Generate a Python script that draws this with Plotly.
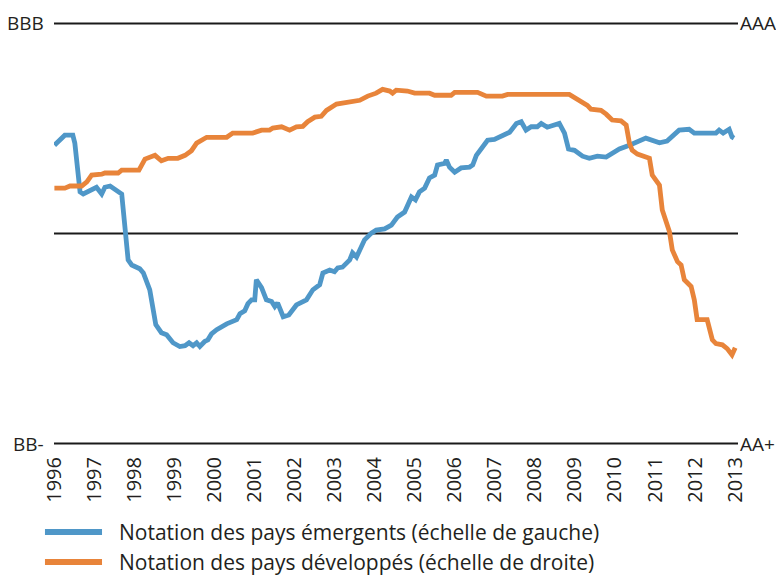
import plotly.graph_objects as go

# Emerging countries rating (left scale), index 0 = BB-, 100 = BBB
em_years = [1996.01, 1996.27, 1996.47, 1996.52, 1996.65, 1996.73, 1997.06, 1997.19, 1997.27, 1997.40,
            1997.69, 1997.85, 1997.94, 1998.14, 1998.23, 1998.39, 1998.54, 1998.68, 1998.81, 1998.97,
            1999.14, 1999.27, 1999.37, 1999.47, 1999.56, 1999.64, 1999.76, 1999.84, 1999.93, 2000.06,
            2000.31, 2000.46, 2000.56, 2000.64, 2000.76, 2000.84, 2000.93, 2001.01, 2001.05, 2001.18,
            2001.30, 2001.43, 2001.51, 2001.58, 2001.72, 2001.86, 2002.05, 2002.30, 2002.46, 2002.63,
            2002.71, 2002.88, 2003.00, 2003.08, 2003.20, 2003.38, 2003.45, 2003.55, 2003.75, 2003.92,
            2004.04, 2004.25, 2004.42, 2004.57, 2004.75, 2004.92, 2005.02, 2005.12, 2005.25, 2005.37,
            2005.50, 2005.57, 2005.75, 2005.79, 2005.87, 2006.00, 2006.16, 2006.37, 2006.45, 2006.54,
            2006.82, 2006.99, 2007.37, 2007.54, 2007.66, 2007.78, 2007.91, 2008.06, 2008.16, 2008.31,
            2008.61, 2008.74, 2008.84, 2008.99, 2009.19, 2009.36, 2009.56, 2009.78, 2009.93, 2010.11,
            2010.36, 2010.77, 2011.11, 2011.30, 2011.60, 2011.85, 2011.98, 2012.52, 2012.60, 2012.70,
            2012.85, 2012.92, 2012.97]
em_values = [71.0, 73.4, 73.4, 71.5, 59.9, 59.4, 61.0, 59.4, 61.0, 61.3,
             59.4, 43.7, 42.5, 41.6, 40.6, 36.6, 28.3, 26.4, 25.9, 24.0,
             23.1, 23.3, 24.0, 23.3, 24.0, 23.1, 24.3, 24.7, 26.1, 27.1,
             28.5, 29.2, 29.5, 30.9, 31.6, 33.3, 34.2, 34.2, 39.0, 37.1,
             34.2, 33.8, 32.6, 33.5, 30.2, 30.6, 33.0, 34.2, 36.6, 37.8,
             40.6, 41.3, 40.9, 41.8, 42.0, 43.7, 45.4, 44.4, 48.5, 50.1,
             50.8, 51.1, 52.0, 53.9, 55.1, 58.7, 58.0, 59.9, 60.8, 63.2,
             63.9, 66.3, 66.7, 67.5, 65.8, 64.6, 65.6, 65.8, 66.3, 68.6,
             72.2, 72.4, 74.1, 76.2, 76.6, 74.6, 75.4, 75.4, 76.2, 75.3,
             76.2, 73.9, 70.1, 69.8, 68.4, 67.9, 68.4, 68.2, 69.1, 70.1,
             71.0, 72.7, 71.6, 72.0, 74.6, 74.8, 73.9, 73.9, 74.6, 73.9,
             74.8, 73.0, 72.7]

# Developed countries rating (right scale), index 0 = AA+, 100 = AAA
dev_years = [1996.01, 1996.27, 1996.40, 1996.69, 1996.82, 1996.94, 1997.19, 1997.27, 1997.60, 1997.69,
             1998.12, 1998.27, 1998.52, 1998.68, 1998.85, 1999.09, 1999.27, 1999.43, 1999.56, 1999.81,
             2000.31, 2000.46, 2000.96, 2001.18, 2001.38, 2001.46, 2001.68, 2001.88, 2002.05, 2002.21,
             2002.33, 2002.51, 2002.67, 2002.80, 2003.05, 2003.30, 2003.42, 2003.63, 2003.83, 2004.04,
             2004.20, 2004.38, 2004.45, 2004.54, 2004.82, 2005.00, 2005.37, 2005.50, 2005.91, 2006.00,
             2006.57, 2006.79, 2007.19, 2007.32, 2008.86, 2009.03, 2009.19, 2009.31, 2009.40, 2009.65,
             2009.78, 2009.93, 2010.15, 2010.28, 2010.36, 2010.43, 2010.56, 2010.68, 2010.86, 2010.93,
             2011.11, 2011.18, 2011.27, 2011.36, 2011.43, 2011.56, 2011.65, 2011.73, 2011.90, 2011.98,
             2012.05, 2012.30, 2012.43, 2012.52, 2012.68, 2012.80, 2012.92, 2013.00]
dev_values = [60.8, 60.8, 61.3, 61.3, 62.3, 63.9, 64.1, 64.4, 64.4, 65.1,
              65.1, 67.7, 68.6, 67.3, 67.9, 67.9, 68.6, 69.7, 71.5, 72.9,
              72.9, 73.9, 73.9, 74.6, 74.6, 75.1, 75.4, 74.6, 75.4, 75.5,
              76.6, 77.7, 77.9, 79.3, 80.8, 81.1, 81.5, 81.7, 82.7, 83.4,
              84.3, 83.9, 83.4, 84.1, 83.9, 83.4, 83.4, 82.9, 82.9, 83.6,
              83.6, 82.7, 82.7, 83.1, 83.1, 82.2, 81.3, 80.5, 79.6, 79.3,
              78.4, 77.0, 76.8, 75.8, 71.5, 69.8, 68.9, 68.6, 67.9, 63.9,
              61.5, 55.6, 53.2, 50.4, 46.1, 43.3, 42.5, 39.0, 37.4, 34.2,
              29.5, 29.5, 24.7, 23.8, 23.5, 22.6, 21.1, 22.8]

year_ticks = list(range(1996, 2014))
left_labels = ["BB-", "BBB"]
right_labels = ["AA+", "AAA"]
legend_names = ["Notation des pays émergents (échelle de gauche)",
                "Notation des pays développés (échelle de droite)"]

BLUE = "#4f97c8"
ORANGE = "#e8843a"
TXT = "#231f20"
FONT = "Open Sans, Liberation Sans, Arial, sans-serif"

fig = go.Figure()
fig.add_trace(go.Scatter(x=em_years, y=em_values, mode="lines", name=legend_names[0],
                         line=dict(color=BLUE, width=4.8), showlegend=False))
fig.add_trace(go.Scatter(x=dev_years, y=dev_values, mode="lines", name=legend_names[1],
                         line=dict(color=ORANGE, width=4.8), showlegend=False, yaxis="y2"))

shapes = []
for v in [0, 50, 100]:
    shapes.append(dict(type="line", xref="paper", yref="y", x0=0, x1=1, y0=v, y1=v,
                       line=dict(color="#1a1a1a", width=2), layer="below"))

annotations = []
for v, t in zip([0, 100], left_labels):
    annotations.append(dict(x=0, xref="paper", y=v, yref="y", text=t, showarrow=False,
                            xanchor="right", yanchor="middle", xshift=-8,
                            font=dict(size=19, color=TXT, family=FONT)))
for v, t in zip([0, 100], right_labels):
    annotations.append(dict(x=1, xref="paper", y=v, yref="y", text=t, showarrow=False,
                            xanchor="left", yanchor="middle", xshift=0,
                            font=dict(size=19, color=TXT, family=FONT)))

# manual legend
for i, (name, col) in enumerate(zip(legend_names, [BLUE, ORANGE])):
    yp = -0.183 - i * 0.0686
    shapes.append(dict(type="line", xref="paper", yref="paper", x0=-0.0132, x1=0.0702,
                       y0=yp, y1=yp, line=dict(color=col, width=6)))
    annotations.append(dict(x=0.0921, xref="paper", y=yp, yref="paper", text=name,
                            showarrow=False, xanchor="left", yanchor="middle",
                            font=dict(size=21, color=TXT, family=FONT)))

# page body has an 8px margin: size the figure to fill the rest of the window
fig.update_layout(
    width=776, height=567,
    margin=dict(l=46, r=46, t=7, b=123),
    paper_bgcolor="white", plot_bgcolor="white",
    font=dict(family=FONT, color=TXT, size=20),
    xaxis=dict(range=[1996, 2013.07], tickvals=year_ticks, ticktext=[str(y) for y in year_ticks],
               tickangle=-90, showgrid=False, zeroline=False, showline=False, ticks="",
               tickfont=dict(size=20, color=TXT, family=FONT)),
    yaxis=dict(range=[-2, 102], showgrid=False, zeroline=False, showticklabels=False, ticks=""),
    yaxis2=dict(range=[-2, 102], overlaying="y", side="right", showgrid=False, zeroline=False,
                showticklabels=False, ticks=""),
    shapes=shapes, annotations=annotations, showlegend=False,
)

fig.write_html("out.html")
